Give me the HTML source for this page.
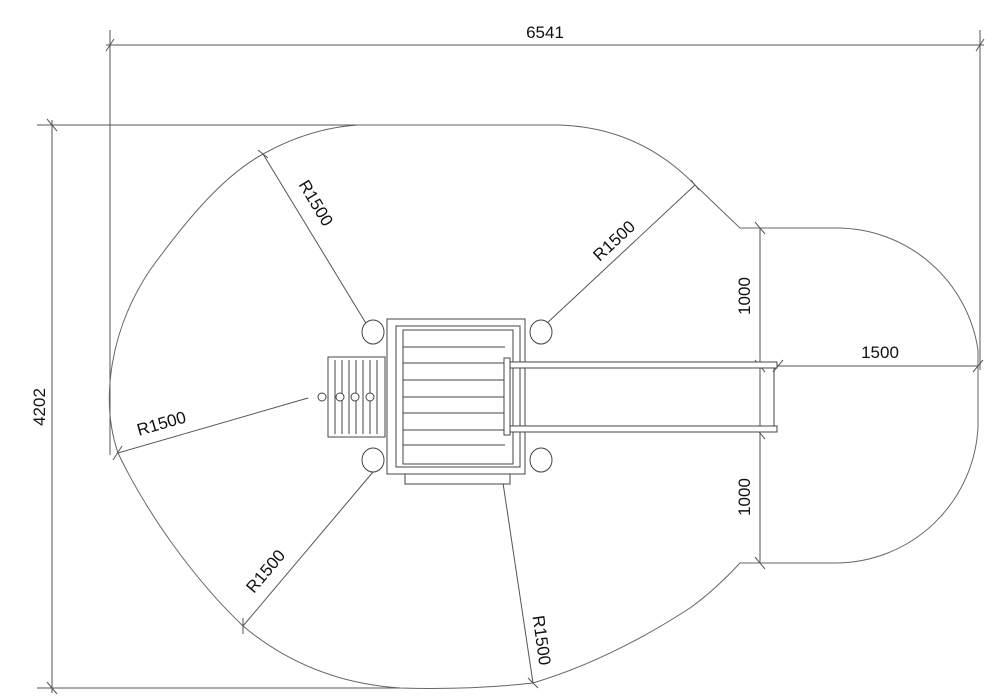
<!DOCTYPE html>
<html><head><meta charset="utf-8"><style>
html,body{margin:0;padding:0;background:#fff;}
svg{display:block;}
text{font-family:"Liberation Sans",sans-serif;font-size:17px;fill:#111;}
</style></head><body>
<svg width="999" height="697" viewBox="0 0 999 697" xmlns="http://www.w3.org/2000/svg">
<rect width="999" height="697" fill="#fff"/>
<g stroke="#555" stroke-width="1" fill="none">
<line x1="106" y1="45" x2="984" y2="45"/>
<line x1="110" y1="30" x2="110" y2="455"/>
<line x1="980" y1="30" x2="980" y2="370"/>
<line x1="106" y1="51" x2="114" y2="39"/>
<line x1="976" y1="51" x2="984" y2="39"/>
<line x1="52" y1="120" x2="52" y2="693"/>
<line x1="37" y1="125" x2="360" y2="125"/>
<line x1="37" y1="688" x2="400" y2="688"/>
<line x1="47" y1="119" x2="57" y2="131"/>
<line x1="47" y1="682" x2="57" y2="694"/>
<path d="M358,125 L560,125 Q640,128 695,185 L740,228 L837,228 A143,143 0 0 1 978,350 L978,427 A143,143 0 0 1 837,563 L740,563 Q715,590 690,608 Q610,660 533,683 Q470,690 400,688 Q310,682 243,626 C200,585 150,520 118,453 C100,400 110,330 150,270 C190,215 225,175 263,154 Q310,128 358,125 Z" stroke="#666"/>
<line x1="760" y1="228" x2="760" y2="563"/>
<line x1="760" y1="366" x2="978" y2="366"/>
<line x1="755" y1="222" x2="765" y2="234"/>
<line x1="755" y1="360" x2="765" y2="372"/>
<line x1="755" y1="427" x2="765" y2="439"/>
<line x1="755" y1="557" x2="765" y2="569"/>
<line x1="973" y1="372" x2="983" y2="360"/>
<line x1="773" y1="372" x2="783" y2="360"/>
<line x1="263" y1="154" x2="367" y2="325"/>
<line x1="695" y1="185" x2="545" y2="325"/>
<line x1="118" y1="453" x2="308" y2="398"/>
<line x1="243" y1="626" x2="373" y2="472"/>
<line x1="533" y1="683" x2="503" y2="483"/>
<line x1="258" y1="150" x2="268" y2="158"/>
<line x1="691" y1="180" x2="699" y2="190"/>
<line x1="113" y1="460" x2="122" y2="446"/>
<line x1="243" y1="618" x2="243" y2="634"/>
<line x1="528" y1="678" x2="538" y2="688"/>
</g>
<g stroke="#444" stroke-width="1" fill="#fff">
<rect x="328" y="357" width="57" height="80"/>
<line x1="335" y1="360" x2="335" y2="434"/><line x1="342" y1="360" x2="342" y2="434"/><line x1="349" y1="360" x2="349" y2="434"/><line x1="356" y1="360" x2="356" y2="434"/><line x1="363" y1="360" x2="363" y2="434"/><line x1="370" y1="360" x2="370" y2="434"/><line x1="377" y1="360" x2="377" y2="434"/>
<circle cx="322" cy="397" r="4"/><circle cx="340" cy="397" r="4"/><circle cx="355" cy="397" r="4"/><circle cx="370" cy="397" r="4"/>
<rect x="405" y="474" width="105" height="10"/>
<rect x="387" y="319" width="138" height="155"/>
<rect x="396" y="326" width="124" height="141"/>
<rect x="403" y="330" width="110" height="134"/>
<line x1="403" y1="347" x2="505" y2="347"/><line x1="403" y1="363" x2="505" y2="363"/><line x1="403" y1="380" x2="505" y2="380"/><line x1="403" y1="397" x2="505" y2="397"/><line x1="403" y1="413" x2="505" y2="413"/><line x1="403" y1="430" x2="505" y2="430"/><line x1="403" y1="445" x2="505" y2="445"/>
<rect x="504" y="358" width="6" height="77"/>
<path d="M510,362 H777 V368 H510 Z M510,426 H777 V432 H510 Z"/>
<line x1="774" y1="368" x2="774" y2="426"/>
<ellipse cx="373" cy="332" rx="11" ry="12"/><ellipse cx="541" cy="332" rx="11" ry="12"/><ellipse cx="373" cy="460" rx="11" ry="12"/><ellipse cx="541" cy="460" rx="11" ry="12"/>
</g>
<text x="545" y="38" text-anchor="middle">6541</text>
<text transform="translate(45,407) rotate(-90)" text-anchor="middle">4202</text>
<text transform="translate(750,296) rotate(-90)" text-anchor="middle">1000</text>
<text transform="translate(750,497) rotate(-90)" text-anchor="middle">1000</text>
<text x="880" y="358" text-anchor="middle">1500</text>
<text transform="translate(311,206) rotate(59)" text-anchor="middle">R1500</text>
<text transform="translate(618,245) rotate(-43)" text-anchor="middle">R1500</text>
<text transform="translate(163,429) rotate(-16)" text-anchor="middle">R1500</text>
<text transform="translate(270,575) rotate(-50)" text-anchor="middle">R1500</text>
<text transform="translate(536,641) rotate(82)" text-anchor="middle">R1500</text>
</svg>
</body></html>
